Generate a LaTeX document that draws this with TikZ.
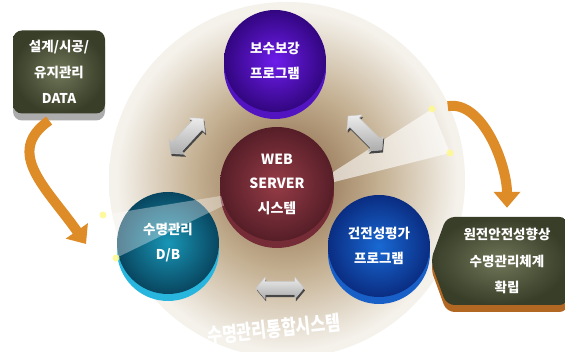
\documentclass[tikz,border=0pt]{standalone}
\usepackage{fontspec}
\newfontfamily\kr{Noto Sans CJK KR}
\usepackage{tikz}
\usetikzlibrary{arrows.meta, shapes.arrows, shapes.symbols, shadows}

% Farben
\definecolor{hofinnen}{RGB}{132,98,64}
\definecolor{hofmitte}{RGB}{196,176,146}
\definecolor{hofrand}{RGB}{245,242,236}
\definecolor{lilainnen}{RGB}{110,28,235}
\definecolor{lilarand}{RGB}{50,6,128}
\definecolor{lilasockel}{RGB}{82,20,192}
\definecolor{webinnen}{RGB}{150,60,70}
\definecolor{webrand}{RGB}{86,30,40}
\definecolor{websockel}{RGB}{118,44,54}
\definecolor{dbinnen}{RGB}{25,150,182}
\definecolor{dbrand}{RGB}{8,70,96}
\definecolor{dbsockel}{RGB}{40,182,222}
\definecolor{blauinnen}{RGB}{25,105,212}
\definecolor{blaurand}{RGB}{10,45,130}
\definecolor{blausockel}{RGB}{25,95,200}
\definecolor{olivinnen}{RGB}{112,118,88}
\definecolor{olivrand}{RGB}{56,62,40}
\definecolor{orangepfeil}{RGB}{222,140,40}
\definecolor{orangesockel}{RGB}{178,104,34}

\pgfdeclareradialshading{hof}{\pgfpoint{0bp}{0bp}}{color(0bp)=(hofinnen); color(13bp)=(hofmitte); color(24bp)=(hofrand); color(25bp)=(hofrand); color(50bp)=(hofrand)}

\begin{document}
\begin{tikzpicture}[x=1pt, y=1pt,
  kugel/.style n args={3}{circle, minimum size=102pt, inner sep=0pt,
    inner color=#1, outer color=#2,
    drop shadow={shadow xshift=0pt, shadow yshift=-7pt, fill=#3, opacity=1},
    text=white, align=center, font=\kr\bfseries\fontsize{13.5}{25}\selectfont},
  kasten/.style={rounded corners=9pt, minimum width=92pt, minimum height=83pt,
    inner color=olivinnen, outer color=olivrand,
    drop shadow={shadow xshift=0pt, shadow yshift=-7pt, fill=gray!65, opacity=1},
    text=white, align=center, font=\kr\bfseries\fontsize{13.5}{26}\selectfont},
  schild/.style={signal, signal to=west, signal from=nowhere, signal pointer angle=140,
    rounded corners=8pt, minimum width=137pt, minimum height=88pt,
    inner color=olivinnen, outer color=olivrand,
    drop shadow={shadow xshift=0pt, shadow yshift=-7pt, fill=orangesockel, opacity=1},
    text=white, align=center, font=\kr\bfseries\fontsize{13.5}{26.5}\selectfont},
  pfeil/.style={double arrow, double arrow head extend=4pt, double arrow tip angle=100,
    minimum height=48pt, minimum width=22pt, inner xsep=0pt, inner ysep=6pt,
    top color=gray!15, bottom color=gray!65, draw=gray!45,
    drop shadow={shadow xshift=1pt, shadow yshift=-2.5pt, fill=gray!55!black, opacity=1}},
  bogen/.style={line width=10pt, orangepfeil, -{Triangle[width=26pt,length=16pt]}},
  strahl/.style={fill=white, opacity=0.6},
  punkt/.style={fill=yellow!45, opacity=0.85}]

\useasboundingbox (0,0) rectangle (565,352);
\fill[white] (0,0) rectangle (565,352);

% Hintergrundkreis
\shade[shading=hof] (287,172) circle (178);

% Lichtstrahlen und Punkte
\coordinate (rpunkt1) at (432,243);
\coordinate (rpunkt2) at (450,199);
\coordinate (lpunkt1) at (103,137);
\coordinate (lpunkt2) at (116,94);
\coordinate (lspitze) at (86,108);

% Kreise
\node[kugel={lilainnen}{lilarand}{lilasockel}] (bosu) at (275,291) {보수보강\\프로그램};
\node[kugel={webinnen}{webrand}{websockel}, minimum size=114pt,
  font=\kr\bfseries\fontsize{14}{24.5}\selectfont] (web) at (277,168) {WEB\\SERVER\\시스템};
\node[kugel={dbinnen}{dbrand}{dbsockel}] (db) at (168,109) {수명관리\\D/B};
\node[kugel={blauinnen}{blaurand}{blausockel}] (gpe) at (379,106) {건전성평가\\프로그램};

\fill[strahl] (web.12) -- (rpunkt1) -- (rpunkt2) -- (web.2) -- cycle;
\fill[strahl, opacity=0.35] (web.192) -- (lpunkt1) -- (lpunkt2) -- (web.202) -- cycle;
\fill[punkt] (rpunkt1) circle (3.5) (rpunkt2) circle (3.5) (lpunkt1) circle (3.5) (lpunkt2) circle (3.5);

% Doppelpfeile zwischen den Kreisen
\node[pfeil, rotate=47] (pf1) at (187,216) {};
\node[pfeil, rotate=-45] (pf2) at (365,219) {};
\node[pfeil] (pf3) at (280,64) {};

% Kaesten links und rechts
\node[kasten] (data) at (59,280) {설계/시공/\\유지관리\\DATA};
\node[schild] (ziel) at (507,91) {원전안전성향상\\수명관리체계\\확립};

% Gebogene Pfeile
\draw[bogen, shorten <=12pt] (data.south) to[out=215, in=125, looseness=1.3] (lspitze);
\draw[bogen, shorten <=16pt, shorten >=9pt] (rpunkt1) to[out=10, in=90] (ziel.north);

% Beschriftung unten
\node[text=white, font=\kr\bfseries\fontsize{17}{20}\selectfont, rotate=6] (titel) at (274,23)
  {\scalebox{0.95}[1.2]{수명관리통합시스템}};

\end{tikzpicture}
\end{document}
